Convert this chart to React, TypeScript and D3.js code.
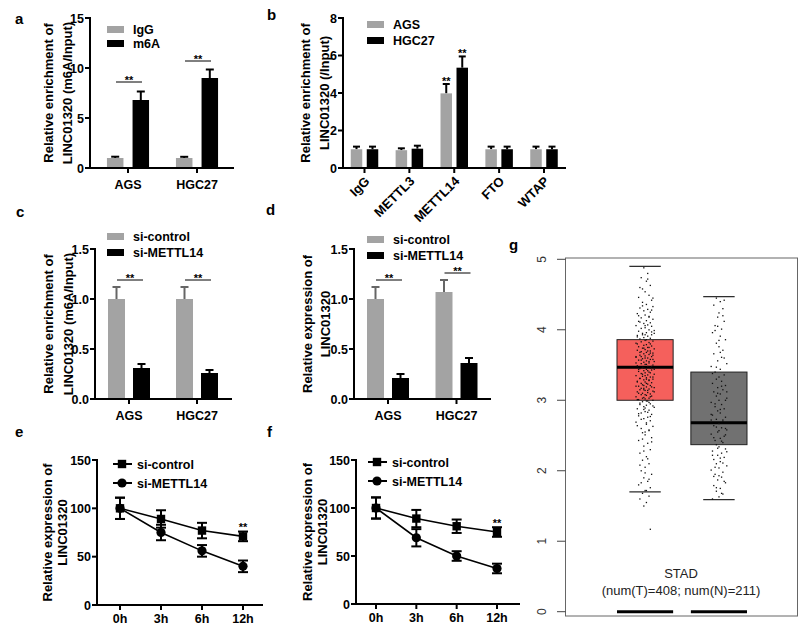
import React from "react";
import * as d3 from "d3";

const FONT = "'Liberation Sans', Arial, Helvetica, sans-serif";
const GRAY = "#a3a3a3";

// ---------- Panel a ----------
const aCategories = ["AGS", "HGC27"];
const aSeriesNames = ["IgG", "m6A"];
const aIgG = [1.0, 1.0];
const aIgGErr = [0.13, 0.12];
const aM6A = [6.8, 9.0];
const aM6AErr = [0.85, 0.85];
const aSigLevel = [8.6, 10.7];
const aTicks = [0, 5, 10, 15];

// ---------- Panel b ----------
const bCategories = ["IgG", "METTL3", "METTL14", "FTO", "WTAP"];
const bSeriesNames = ["AGS", "HGC27"];
const bAGS = [1.0, 0.95, 3.98, 1.0, 1.0];
const bAGSErr = [0.14, 0.1, 0.5, 0.14, 0.14];
const bHGC = [1.0, 1.03, 5.35, 1.0, 1.0];
const bHGCErr = [0.14, 0.16, 0.6, 0.14, 0.14];
const bStars = [false, false, true, false, false];
const bTicks = [0, 2, 4, 6, 8];

// ---------- Panel c ----------
const cCategories = ["AGS", "HGC27"];
const cSeriesNames = ["si-control", "si-METTL14"];
const cCtrl = [1.0, 1.0];
const cCtrlErr = [0.12, 0.12];
const cKd = [0.31, 0.26];
const cKdErr = [0.04, 0.03];
const cSigLevel = [1.19, 1.19];
const cTicks = [0, 0.5, 1.0, 1.5];

// ---------- Panel d ----------
const dCategories = ["AGS", "HGC27"];
const dSeriesNames = ["si-control", "si-METTL14"];
const dCtrl = [1.0, 1.07];
const dCtrlErr = [0.12, 0.12];
const dKd = [0.21, 0.36];
const dKdErr = [0.04, 0.05];
const dSigLevel = [1.19, 1.26];
const dTicks = [0, 0.5, 1.0, 1.5];

// ---------- Panel e ----------
const eTimes = ["0h", "3h", "6h", "12h"];
const eSeriesNames = ["si-control", "si-METTL14"];
const eCtrl = [100, 89, 77, 71];
const eCtrlErr = [11, 9, 8, 5];
const eKd = [100, 75, 56, 40];
const eKdErr = [11, 8, 6, 6];
const eStars = [false, false, false, true];
const eTicks = [0, 50, 100, 150];

// ---------- Panel f ----------
const fTimes = ["0h", "3h", "6h", "12h"];
const fSeriesNames = ["si-control", "si-METTL14"];
const fCtrl = [100, 89, 81, 75];
const fCtrlErr = [11, 9, 7, 5];
const fKd = [100, 69, 50, 37];
const fKdErr = [11, 9, 5, 5];
const fStars = [false, false, false, true];
const fTicks = [0, 50, 100, 150];

// ---------- Panel g ----------
const gGroups = ["T", "N"];
const gBoxTumor = { low: 1.7, q1: 3.0, median: 3.47, q3: 3.86, high: 4.9 };
const gBoxNormal = { low: 1.59, q1: 2.37, median: 2.68, q3: 3.4, high: 4.47 };
const gTicks = [0, 1, 2, 3, 4, 5];
const gTitle = "STAD";
const gSubtitle = "(num(T)=408; num(N)=211)";
// [jitter, value]
const gTumorPoints: [number, number][] = [
  [-1,4.88],[2,4.80],[-3,4.74],[1,4.69],[4,4.63],[-2,4.58],[0,4.54],[3,4.49],[-5,4.46],[5,4.42],
  [-2,4.39],[1,4.36],[6,4.33],[-4,4.31],[2,4.29],[-1,4.27],[4,4.25],[-6,4.23],[0,4.21],[3,4.19],
  [-3,4.17],[6,4.15],[1,4.13],[-5,4.12],[4,4.10],[-1,4.09],[2,4.07],[-7,4.06],[5,4.05],[0,4.03],
  [-3,4.02],[3,4.00],[7,3.99],[-5,3.98],[1,3.96],[-2,3.95],[5,3.93],[-6,3.92],[2,3.91],[-1,3.89],
  [4,3.88],[-4,3.87],[0,3.85],[6,3.84],[-3,3.83],[3,3.82],[-7,3.81],[1,3.79],[-1,3.78],[5,3.77],
  [-5,3.76],[2,3.75],[-2,3.74],[7,3.73],[0,3.72],[-6,3.71],[4,3.70],[-3,3.69],[1,3.68],[6,3.67],
  [-1,3.66],[3,3.65],[-4,3.64],[0,3.63],[5,3.62],[-7,3.61],[2,3.60],[-2,3.59],[4,3.58],[-5,3.57],
  [1,3.56],[7,3.55],[-1,3.54],[3,3.53],[-3,3.52],[0,3.51],[6,3.50],[-6,3.49],[2,3.48],[-2,3.47],
  [4,3.46],[-4,3.45],[1,3.44],[5,3.43],[-1,3.42],[-5,3.41],[3,3.40],[0,3.39],[-3,3.38],[7,3.37],
  [2,3.36],[-7,3.35],[-2,3.34],[4,3.33],[1,3.32],[-4,3.31],[6,3.30],[-1,3.29],[3,3.28],[-6,3.27],
  [0,3.26],[5,3.25],[-3,3.24],[2,3.23],[-2,3.22],[4,3.21],[-5,3.20],[1,3.19],[7,3.18],[-1,3.17],
  [3,3.16],[-4,3.15],[0,3.14],[6,3.13],[-6,3.12],[2,3.11],[-2,3.10],[4,3.09],[-3,3.08],[1,3.07],
  [5,3.06],[-7,3.05],[-1,3.04],[3,3.03],[0,3.02],[-5,3.01],[6,3.00],[2,2.99],[-2,2.98],[-4,2.96],
  [4,2.95],[1,2.93],[-1,2.91],[7,2.90],[-6,2.88],[3,2.86],[0,2.84],[-3,2.82],[5,2.80],[-5,2.78],
  [2,2.76],[-1,2.74],[4,2.71],[-7,2.69],[1,2.66],[6,2.63],[-3,2.60],[3,2.57],[-2,2.54],[0,2.51],
  [5,2.47],[-5,2.43],[2,2.39],[-1,2.35],[4,2.30],[-4,2.25],[1,2.20],[-2,2.15],[3,2.10],[0,2.05],
  [-3,2.00],[5,1.95],[-1,1.90],[2,1.85],[-5,1.80],[4,1.76],[0,1.72],[-2,1.68],[3,1.64],[-4,1.60],
  [1,1.55],[-1,1.50],[4,1.17],
  [3,4.18],[-4,4.11],[0,4.06],[5,3.97],[-2,3.93],[1,3.86],[-6,3.80],[4,3.80],[-1,3.74],[2,3.70],
  [-4,3.68],[6,3.64],[0,3.60],[-3,3.57],[3,3.55],[-7,3.53],[1,3.51],[5,3.48],[-1,3.46],[-5,3.44],
  [2,3.42],[4,3.39],[-2,3.37],[0,3.35],[6,3.33],[-4,3.31],[3,3.29],[-6,3.26],[1,3.24],[-1,3.21],
  [5,3.19],[-3,3.17],[2,3.14],[7,3.12],[-5,3.10],[0,3.08],[4,3.05],[-2,3.03],[-6,3.01],[1,2.99],
  [3,2.97],[-4,2.94],[6,2.92],[0,2.89],[-1,2.87],[2,2.83],[-5,2.81],[4,2.77],[-3,2.73],[1,2.68],
  [-6,2.64],[3,2.58],[0,2.55],[-2,2.45],[5,2.41],[-1,2.28],[2,2.17],[-4,2.08],[0,1.97],[3,1.88],
  [-3,1.83],[1,1.72],[6,4.45],[-4,4.60],[2,4.72],[-5,4.20],[7,3.95],[-7,3.62],[7,3.44],[-7,3.20],
  [6,3.58],[-6,3.90],[5,4.28],[-2,4.34],[0,3.93],[3,3.75],[-3,3.62],[1,3.30],[-1,3.15],[4,3.67],
];
const gNormalPoints: [number, number][] = [
  [-2,4.45],[1,4.40],[-4,4.35],[3,4.30],[0,4.24],[-1,4.18],[4,4.12],[-3,4.06],[2,4.01],[-5,3.96],
  [1,3.91],[5,3.86],[-2,3.81],[0,3.76],[3,3.71],[-4,3.66],[2,3.61],[-1,3.56],[6,3.52],[-6,3.48],
  [1,3.44],[-3,3.40],[4,3.36],[0,3.33],[-2,3.30],[2,3.27],[-5,3.24],[5,3.21],[-1,3.18],[3,3.15],
  [-4,3.12],[1,3.09],[-2,3.06],[6,3.03],[0,3.00],[-6,2.97],[2,2.94],[-3,2.91],[4,2.88],[-1,2.85],
  [1,2.82],[-5,2.79],[5,2.76],[-2,2.73],[3,2.70],[0,2.67],[-4,2.64],[2,2.61],[6,2.58],[-1,2.55],
  [-6,2.52],[4,2.49],[1,2.46],[-3,2.43],[3,2.40],[-2,2.37],[0,2.34],[5,2.31],[-5,2.28],[2,2.25],
  [-1,2.22],[4,2.19],[-4,2.16],[1,2.13],[-2,2.10],[6,2.07],[0,2.04],[-6,2.01],[3,1.98],[-3,1.95],
  [2,1.91],[-1,1.87],[5,1.83],[-4,1.79],[1,1.75],[-2,1.71],[3,1.67],[0,1.63],[-5,1.60],
  [3,4.20],[-3,3.99],[0,3.85],[4,3.60],[-5,3.38],[2,3.20],[-1,3.10],[5,3.00],[-3,2.95],[1,2.87],
  [-6,2.80],[3,2.72],[-2,2.62],[0,2.57],[5,2.51],[-4,2.47],[2,2.42],[-1,2.32],[6,2.27],[-5,2.22],
  [1,2.18],[3,2.11],[-3,2.05],[0,1.93],[4,1.85],[-2,1.76],[2,1.68],[-4,1.92],[5,2.60],[-6,2.72],
  [6,3.12],[-2,3.47],[1,3.68],[-1,4.05],[4,4.42],
];

type Series = { values: number[]; errors: number[]; color: string; errColor: string };

function PanelLetter({ x, y, t }: { x: number; y: number; t: string }) {
  return (
    <text x={x} y={y} fontSize={15} fontWeight="bold" fontFamily={FONT}>
      {t}
    </text>
  );
}

function YAxis({ x0, scale, ticks, fmt }: any) {
  return (
    <g>
      <line x1={x0} x2={x0} y1={scale.range()[1] - 1} y2={scale.range()[0] + 1} stroke="#000" strokeWidth={2} />
      {ticks.map((t: number) => (
        <g key={t}>
          <line x1={x0 - 5} x2={x0} y1={scale(t)} y2={scale(t)} stroke="#000" strokeWidth={2} />
          <text x={x0 - 6} y={scale(t) + 4.5} textAnchor="end" fontSize={12.5} fontWeight="bold" fontFamily={FONT}>
            {fmt(t)}
          </text>
        </g>
      ))}
    </g>
  );
}

function YLabel({ lines, xs, cy, size = 13 }: any) {
  return (
    <g>
      {lines.map((l: string, i: number) => (
        <text
          key={i}
          transform={`translate(${xs[i]},${cy}) rotate(-90)`}
          textAnchor="middle"
          fontSize={size}
          fontWeight="bold"
          fontFamily={FONT}
        >
          {l}
        </text>
      ))}
    </g>
  );
}

function BarPanel(p: any) {
  const y = d3.scaleLinear().domain([0, p.yMax]).range([p.yBot, p.yTop]);
  const x = d3.scalePoint<string>().domain(p.categories).range([p.c0, p.c1]);
  const series: Series[] = p.series;
  const offs = [-p.offset, p.offset];
  return (
    <g fontFamily={FONT}>
      <PanelLetter x={p.letterX} y={p.letterY} t={p.letter} />
      {series.map((s, si) =>
        p.categories.map((c: string, i: number) => {
          const cx = (x(c) as number) + offs[si];
          const top = y(s.values[i]);
          const et = y(s.values[i] + s.errors[i]);
          return (
            <g key={`${si}-${i}`}>
              <line x1={cx} x2={cx} y1={top} y2={et} stroke={s.errColor} strokeWidth={2} />
              <line x1={cx - p.capW / 2} x2={cx + p.capW / 2} y1={et} y2={et} stroke={s.errColor} strokeWidth={2} />
              <rect x={cx - p.barW / 2} y={top} width={p.barW} height={p.yBot - top} fill={s.color} />
            </g>
          );
        })
      )}
      <line x1={p.x0 - 1} x2={p.x1} y1={p.yBot} y2={p.yBot} stroke="#000" strokeWidth={2} />
      {p.categories.map((c: string) => (
        <line key={c} x1={x(c)} x2={x(c)} y1={p.yBot} y2={p.yBot + 5} stroke="#000" strokeWidth={2} />
      ))}
      <YAxis x0={p.x0} scale={y} ticks={p.ticks} fmt={p.fmt} />
      {p.rotateLabels
        ? p.categories.map((c: string) => (
            <text
              key={c}
              transform={`translate(${(x(c) as number) + 6},${p.yBot + 14}) rotate(-45)`}
              textAnchor="end"
              fontSize={13}
              fontWeight="bold"
            >
              {c}
            </text>
          ))
        : p.categories.map((c: string) => (
            <text key={c} x={x(c)} y={p.yBot + 21} textAnchor="middle" fontSize={12.5} fontWeight="bold">
              {c}
            </text>
          ))}
      {p.sigLevels &&
        p.categories.map((c: string, i: number) => {
          const cx = x(c) as number;
          const ly = y(p.sigLevels[i]);
          return (
            <g key={c}>
              <line x1={cx - 12} x2={cx + 14} y1={ly} y2={ly} stroke="#000" strokeWidth={1} />
              <text x={cx + 1} y={ly + 1.5} textAnchor="middle" fontSize={11} fontWeight="bold">
                **
              </text>
            </g>
          );
        })}
      {p.stars &&
        p.categories.map((c: string, i: number) =>
          p.stars[i]
            ? series.map((s, si) => (
                <text
                  key={`${c}-${si}`}
                  x={(x(c) as number) + offs[si]}
                  y={y(s.values[i] + s.errors[i]) + 0.5}
                  textAnchor="middle"
                  fontSize={11}
                  fontWeight="bold"
                >
                  **
                </text>
              ))
            : null
        )}
      {p.names.map((n: string, i: number) => (
        <g key={n}>
          <rect x={p.legX} y={p.legY[i]} width={17} height={7} fill={series[i].color} />
          <text x={p.legX + 26} y={p.legY[i] + 7.5} fontSize={12.5} fontWeight="bold">
            {n}
          </text>
        </g>
      ))}
      <YLabel lines={p.yLabel} xs={p.yLabelX} cy={(p.yTop + p.yBot) / 2} />
    </g>
  );
}

function Marker({ kind, x, y }: { kind: string; x: number; y: number }) {
  if (kind === "square") return <rect x={x - 4.2} y={y - 4.2} width={8.4} height={8.4} fill="#000" />;
  return <circle cx={x} cy={y} r={4.6} fill="#000" />;
}

function LinePanel(p: any) {
  const y = d3.scaleLinear().domain([0, 150]).range([p.yBot, p.yTop]);
  const x = d3.scalePoint<string>().domain(p.times).range([p.c0, p.c1]);
  const kinds = ["square", "circle"];
  const line = d3
    .line<number>()
    .x((_, i) => x(p.times[i]) as number)
    .y((v) => y(v));
  return (
    <g fontFamily={FONT}>
      <PanelLetter x={p.letterX} y={p.letterY} t={p.letter} />
      <line x1={p.x0 - 1} x2={p.x1} y1={p.yBot} y2={p.yBot} stroke="#000" strokeWidth={2} />
      {p.times.map((t: string) => (
        <g key={t}>
          <line x1={x(t)} x2={x(t)} y1={p.yBot} y2={p.yBot + 5} stroke="#000" strokeWidth={2} />
          <text x={x(t)} y={p.yBot + 18} textAnchor="middle" fontSize={12.5} fontWeight="bold">
            {t}
          </text>
        </g>
      ))}
      <YAxis x0={p.x0} scale={y} ticks={p.ticks} fmt={(v: number) => String(v)} />
      {p.series.map((s: any, si: number) => (
        <g key={si}>
          <path d={line(s.values) as string} fill="none" stroke="#000" strokeWidth={1.6} />
          {s.values.map((v: number, i: number) => {
            const cx = x(p.times[i]) as number;
            const y1 = y(v + s.errors[i]);
            const y2 = y(v - s.errors[i]);
            return (
              <g key={i}>
                <line x1={cx} x2={cx} y1={y1} y2={y2} stroke="#000" strokeWidth={2} />
                <line x1={cx - 5} x2={cx + 5} y1={y1} y2={y1} stroke="#000" strokeWidth={2} />
                <line x1={cx - 5} x2={cx + 5} y1={y2} y2={y2} stroke="#000" strokeWidth={2} />
                <Marker kind={kinds[si]} x={cx} y={y(v)} />
              </g>
            );
          })}
        </g>
      ))}
      {p.stars.map((st: boolean, i: number) =>
        st ? (
          <text
            key={i}
            x={x(p.times[i])}
            y={y(p.series[0].values[i] + p.series[0].errors[i]) - 0.5}
            textAnchor="middle"
            fontSize={11}
            fontWeight="bold"
          >
            **
          </text>
        ) : null
      )}
      {p.names.map((n: string, i: number) => (
        <g key={n}>
          <line x1={p.legX} x2={p.legX + 19} y1={p.legY[i]} y2={p.legY[i]} stroke="#000" strokeWidth={2} />
          <Marker kind={kinds[i]} x={p.legX + 9} y={p.legY[i]} />
          <text x={p.legX + 24} y={p.legY[i] + 4.5} fontSize={12.5} fontWeight="bold">
            {n}
          </text>
        </g>
      ))}
      <YLabel lines={p.yLabel} xs={p.yLabelX} cy={(p.yTop + p.yBot) / 2} />
    </g>
  );
}

function BoxPanel() {
  const left = 565.5, right = 797.5, top = 258, bottom = 616;
  const y = d3.scaleLinear().domain([0, 5]).range([611.7, 259.3]);
  const x = d3.scaleBand<string>().domain(gGroups).range([617, 747]).paddingInner(0.24).paddingOuter(0.0);
  const boxes = [
    { g: "T", b: gBoxTumor, fill: "#f5605c", pts: gTumorPoints },
    { g: "N", b: gBoxNormal, fill: "#717171", pts: gNormalPoints },
  ];
  const bw = x.bandwidth();
  return (
    <g fontFamily={FONT}>
      <PanelLetter x={509} y={250} t="g" />
      <rect x={left} y={top} width={right - left} height={bottom - top} fill="none" stroke="#666" strokeWidth={1} />
      {gTicks.map((t) => (
        <g key={t}>
          <line x1={557} x2={left} y1={y(t)} y2={y(t)} stroke="#444" strokeWidth={1} />
          <text
            transform={`translate(546,${y(t)}) rotate(-90)`}
            textAnchor="middle"
            fontSize={12}
            fill="#333"
          >
            {t}
          </text>
        </g>
      ))}
      {boxes.map(({ g, b, fill }) => {
        const x0 = x(g) as number;
        const cx = x0 + bw / 2;
        return (
          <g key={g}>
            <rect x={x0} y={y(b.q3)} width={bw} height={y(b.q1) - y(b.q3)} fill={fill} stroke="#222" strokeWidth={1} />
            <line x1={x0} x2={x0 + bw} y1={y(b.median)} y2={y(b.median)} stroke="#000" strokeWidth={3} />
            <line x1={cx - bw * 0.28} x2={cx + bw * 0.28} y1={y(b.high)} y2={y(b.high)} stroke="#222" strokeWidth={1.2} />
            <line x1={cx - bw * 0.28} x2={cx + bw * 0.28} y1={y(b.low)} y2={y(b.low)} stroke="#222" strokeWidth={1.2} />
            <line x1={x0} x2={x0 + bw} y1={y(0)} y2={y(0)} stroke="#000" strokeWidth={3} />
          </g>
        );
      })}
      {boxes.map(({ g, pts }) => {
        const cx = (x(g) as number) + bw / 2;
        return (
          <g key={`p-${g}`}>
            {pts.map(([j, v], i) => (
              <rect key={i} x={cx + j * 1.3 - 0.6} y={y(v) - 0.6} width={1.3} height={1.3} fill="#111" />
            ))}
          </g>
        );
      })}
      <text x={681} y={578} textAnchor="middle" fontSize={13} fill="#222">
        {gTitle}
      </text>
      <text x={681} y={595} textAnchor="middle" fontSize={13} fill="#222">
        {gSubtitle}
      </text>
    </g>
  );
}

export default function App() {
  const fmt0 = (v: number) => String(v);
  const fmt1 = (v: number) => d3.format(".1f")(v);
  return (
    <svg width={800} height={640} style={{ position: "absolute", left: 0, top: 0, background: "#fff" }}>
      <rect width={800} height={640} fill="#fff" />
      <BarPanel
        letter="a" letterX={15} letterY={24}
        categories={aCategories} names={aSeriesNames}
        series={[
          { values: aIgG, errors: aIgGErr, color: GRAY, errColor: "#000" },
          { values: aM6A, errors: aM6AErr, color: "#000", errColor: "#000" },
        ]}
        x0={90} x1={234} yTop={18} yBot={168} yMax={15} ticks={aTicks} fmt={fmt0}
        c0={128} c1={197} barW={16.5} offset={12.8} capW={8}
        sigLevels={aSigLevel}
        legX={107} legY={[26, 40]}
        yLabel={["Relative enrichment of", "LINC01320 (m6A/Input)"]} yLabelX={[53, 72]}
      />
      <BarPanel
        letter="b" letterX={267} letterY={20}
        categories={bCategories} names={bSeriesNames}
        series={[
          { values: bAGS, errors: bAGSErr, color: GRAY, errColor: "#000" },
          { values: bHGC, errors: bHGCErr, color: "#000", errColor: "#000" },
        ]}
        x0={343} x1={566} yTop={18} yBot={168} yMax={8} ticks={bTicks} fmt={fmt0}
        c0={364.5} c1={544} barW={11.5} offset={8} capW={7}
        stars={bStars} rotateLabels
        legX={367} legY={[21, 37]}
        yLabel={["Relative enrichment of", "LINC01320 (/Input)"]} yLabelX={[310, 329]}
      />
      <BarPanel
        letter="c" letterX={16} letterY={217}
        categories={cCategories} names={cSeriesNames}
        series={[
          { values: cCtrl, errors: cCtrlErr, color: GRAY, errColor: "#666" },
          { values: cKd, errors: cKdErr, color: "#000", errColor: "#000" },
        ]}
        x0={95} x1={232} yTop={249} yBot={399} yMax={1.5} ticks={cTicks} fmt={fmt1}
        c0={129} c1={197} barW={17} offset={12.5} capW={8}
        sigLevels={cSigLevel}
        legX={107} legY={[233, 249]}
        yLabel={["Relative enrichment of", "LINC01320 (m6A/Input)"]} yLabelX={[53, 73]}
      />
      <BarPanel
        letter="d" letterX={266} letterY={215}
        categories={dCategories} names={dSeriesNames}
        series={[
          { values: dCtrl, errors: dCtrlErr, color: GRAY, errColor: "#666" },
          { values: dKd, errors: dKdErr, color: "#000", errColor: "#000" },
        ]}
        x0={354} x1={491} yTop={249} yBot={399} yMax={1.5} ticks={dTicks} fmt={fmt1}
        c0={388} c1={456.5} barW={17} offset={12.5} capW={8}
        sigLevels={dSigLevel}
        legX={367} legY={[236, 252]}
        yLabel={["Relative expression of", "LINC01320"]} yLabelX={[312, 330]}
      />
      <LinePanel
        letter="e" letterX={15} letterY={437}
        times={eTimes} names={eSeriesNames}
        series={[
          { values: eCtrl, errors: eCtrlErr },
          { values: eKd, errors: eKdErr },
        ]}
        stars={eStars} ticks={eTicks}
        x0={97} x1={263} yTop={460} yBot={605} c0={120} c1={243}
        legX={113} legY={[464, 483]}
        yLabel={["Relative expression of", "LINC01320"]} yLabelX={[52, 67]}
      />
      <LinePanel
        letter="f" letterX={267} letterY={437}
        times={fTimes} names={fSeriesNames}
        series={[
          { values: fCtrl, errors: fCtrlErr },
          { values: fKd, errors: fKdErr },
        ]}
        stars={fStars} ticks={fTicks}
        x0={356} x1={520} yTop={460} yBot={604} c0={376} c1={497}
        legX={368} legY={[462, 481]}
        yLabel={["Relative expression of", "LINC01320"]} yLabelX={[312, 327]}
      />
      <BoxPanel />
    </svg>
  );
}
